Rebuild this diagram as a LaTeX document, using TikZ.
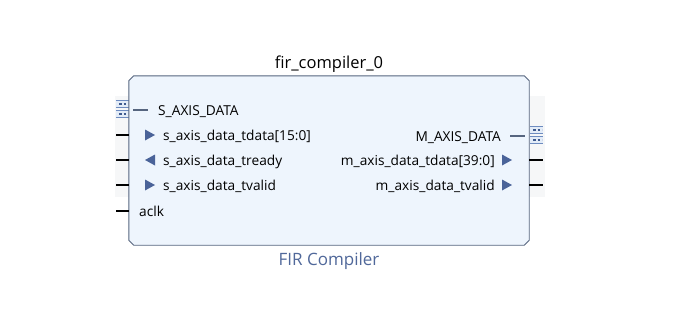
\documentclass[tikz,border=0pt]{standalone}
\usepackage{fontspec}
\setmainfont{Open Sans}
\definecolor{blkfill}{HTML}{EEF5FD}
\definecolor{blkline}{HTML}{56657F}
\definecolor{pinblue}{HTML}{4A6399}
\definecolor{titleblue}{HTML}{50689A}
\definecolor{iconblue}{HTML}{6E8CC0}
\definecolor{icondark}{HTML}{3D5A8F}
\definecolor{iconfill}{HTML}{E3ECF8}
\definecolor{band}{HTML}{F6F7F8}
\tikzset{
  blockbox/.style={rectangle, draw=none, minimum width=400pt, minimum height=169pt, inner sep=0pt},
  pinlabel/.style={font=\fontsize{13.7}{15}\selectfont, inner sep=0pt, text=black},
  pinin/.style={fill=pinblue, draw=none},
  wire/.style={line width=1.6pt, black},
  buswire/.style={line width=2.6pt, black},
  ifwire/.style={line width=2.4pt, blkline},
}
\newcommand{\pinright}[2]{\fill[pinin] (#1,#2-5.5) -- (#1+10,#2) -- (#1,#2+5.5) -- cycle;}
\newcommand{\pinleft}[2]{\fill[pinin] (#1+10,#2-5.5) -- (#1,#2) -- (#1+10,#2+5.5) -- cycle;}
% bus interface symbol: two stacked bars with dotted centres
\newcommand{\ificon}[2]{%
  \foreach \k in {0,10} {
    \fill[iconfill] (#1,#2+\k) rectangle (#1+13,#2+\k+8);
    \draw[iconblue, line width=1.2pt] (#1,#2+\k+0.6) -- (#1+13,#2+\k+0.6);
    \draw[iconblue, line width=1.2pt] (#1,#2+\k+7.4) -- (#1+13,#2+\k+7.4);
    \draw[icondark, line width=2pt, dash pattern=on 2.5pt off 2pt] (#1+3,#2+\k+4) -- (#1+12,#2+\k+4);
  }
}
\begin{document}
\begin{tikzpicture}[x=1pt,y=-1pt]
\useasboundingbox[fill=white] (0,0) rectangle (689,327);
% pale band behind the port area
\fill[band] (115,96) rectangle (545,197);
% interface icons (behind the block edge)
\ificon{116}{100}
\ificon{530}{126}
% the IP block with chamfered corners
\node[blockbox] (block) at (329,160.5) {};
\draw[blkline, line width=0.9pt, fill=blkfill]
  ([xshift=5pt]block.north west) -- ([xshift=-5pt]block.north east)
  -- ([yshift=-5pt]block.north east) -- ([yshift=5pt]block.south east)
  -- ([xshift=-5pt]block.south east) -- ([xshift=5pt]block.south west)
  -- ([yshift=5pt]block.south west) -- ([yshift=-5pt]block.north west) -- cycle;
\node[font=\fontsize{16.5}{18}\selectfont, anchor=base] (name) at (329,68) {fir\_compiler\_0};
\node[font=\fontsize{17}{19}\selectfont, text=titleblue, anchor=base] (kind) at (329,265) {FIR Compiler};

% slave side
\coordinate (sIf) at (133,110); \coordinate (sIfe) at (148,110);
\draw[ifwire] (sIf) -- (sIfe);
\node[pinlabel, anchor=base west] (sdata) at (158,115) {S\_AXIS\_DATA};

\coordinate (tdS) at (116,135); \coordinate (tdE) at (129,135);
\draw[buswire] (tdS) -- (tdE);
\pinright{145}{135}
\node[pinlabel, anchor=base west] (stdata) at (163,140) {s\_axis\_data\_tdata[15:0]};

\coordinate (trS) at (116,160); \coordinate (trE) at (129,160);
\draw[wire] (trS) -- (trE);
\pinleft{145}{160}
\node[pinlabel, anchor=base west] (stready) at (163,165) {s\_axis\_data\_tready};

\coordinate (tvS) at (116,185); \coordinate (tvE) at (129,185);
\draw[wire] (tvS) -- (tvE);
\pinright{145}{185}
\node[pinlabel, anchor=base west] (stvalid) at (163,190) {s\_axis\_data\_tvalid};

\coordinate (ckS) at (116,211); \coordinate (ckE) at (129,211);
\draw[buswire] (ckS) -- (ckE);
\node[pinlabel, anchor=base west] (aclk) at (139,216) {aclk};

% master side
\coordinate (mIf) at (510,136); \coordinate (mIfe) at (525,136);
\draw[ifwire] (mIf) -- (mIfe);
\node[pinlabel, anchor=base east] (mdata) at (501,141) {M\_AXIS\_DATA};

\pinright{502}{160}
\coordinate (mdS) at (529,160); \coordinate (mdE) at (543,160);
\draw[buswire] (mdS) -- (mdE);
\node[pinlabel, anchor=base east] (mtdata) at (495,165) {m\_axis\_data\_tdata[39:0]};

\pinright{502}{185}
\coordinate (mvS) at (529,185); \coordinate (mvE) at (543,185);
\draw[wire] (mvS) -- (mvE);
\node[pinlabel, anchor=base east] (mtvalid) at (495,190) {m\_axis\_data\_tvalid};
\end{tikzpicture}
\end{document}
